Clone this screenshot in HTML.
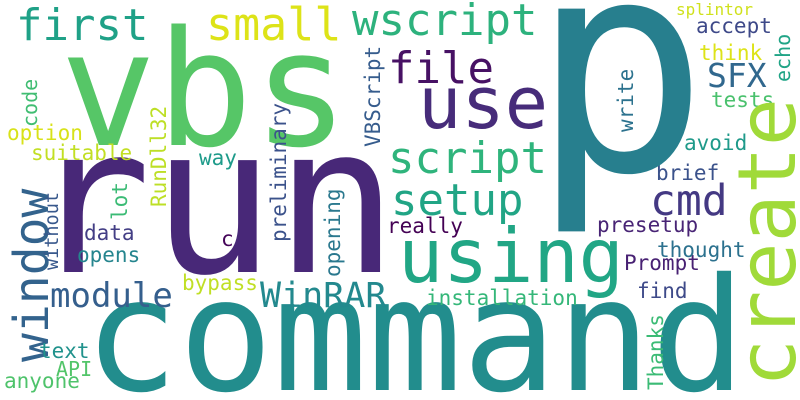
<!DOCTYPE html>
<html><head><meta charset="utf-8"><style>
html,body{margin:0;padding:0;background:#fff;overflow:hidden;width:800px;height:400px;}
svg{display:block;}
text{font-family:"DejaVu Sans Mono","Liberation Mono",monospace;}
</style></head><body>
<svg id="cloud" width="800" height="400" viewBox="0 0 800 400" xmlns="http://www.w3.org/2000/svg" overflow="hidden">
<rect width="800" height="400" fill="#ffffff"/>
</svg>
<script>
const words = ["vbs","first","small","wscript","file","use","script","script","setup","cmd","SFX","accept","splintor","think","tests","avoid","brief","echo","write","p","run","using","command","create","window","module","WinRAR","bypass","installation","Prompt","thought","presetup","really","find","Thanks","data","opens","c","text","API","anyone","without","lot","code","option","suitable","way","RunDll32","preliminary","VBScript","opening"];
const sizes = [160,44,45,44,44,72,44,44,44,43,33,21,16,21,21,21,21,20,21,295,205,75,157,80,48,34,35,21,21,21,21,21,21,21,21,21,21,21,21,20,21,18.5,21,20,21,21,21,21,21,21,21];
const colors = ["#56c667","#1fa187","#dde318","#2db27d","#471164","#472c7a","#2db27d","#2fb47c","#21a585","#443983","#31688e","#3e4989","#d0e11c","#dde318","#4ac16d","#1f9a8a","#3b528b","#20a486","#2c728e","#277f8e","#482878","#21a685","#228d8d","#a0da39","#33638d","#355f8d","#23898e","#c0df25","#35b779","#482173","#2c718e","#482475","#440154","#3e4a89","#3bbb75","#433e85","#25858e","#450559","#20928c","#52c569","#4ec36b","#38588c","#3bbb75","#40bd72","#d8e219","#c2df23","#1e9b8a","#bddf26","#3b528b","#365c8d","#2a788e"];
const xs = [60,16,206,352,388,418,388,388,391,650,707,696,676,699,711,684,656,790,633,531,28,398,84,795,48,50,260,182,426,624,657,597,387,637,663,84,77,221,39,56,4,58,127,37,7,31,199,166,286,380,340];
const ys = [145,40,40,35,83,128,35,173,215,215,87,33,15,60,107,150,180,82,132,170,272,282,390,387,362,307,307,290,305,270,257,232,233,298,390,240,262,246,358,376,388,270,220,127,140,160,165,207,242,147,277];
const rots = [0,0,0,0,0,0,0,0,0,0,0,0,0,0,0,0,0,-90,-90,0,0,0,0,-90,-90,0,0,0,0,0,0,0,0,0,-90,0,0,0,0,0,0,-90,-90,-90,0,0,0,-90,-90,-90,-90];
const skip = [6];
const svg = document.getElementById('cloud');
const NS = "http://www.w3.org/2000/svg";
for (let i = 0; i < words.length; i++) {
  if (skip.includes(i)) continue;
  const t = document.createElementNS(NS, 'text');
  
  
  t.setAttribute('font-size', sizes[i]);
  t.setAttribute('fill', colors[i]);
  t.setAttribute('x', 0);
  t.setAttribute('y', 0);
  t.setAttribute('transform', 'translate(' + xs[i] + ',' + ys[i] + ') rotate(' + rots[i] + ')');
  t.textContent = words[i];
  svg.appendChild(t);
}
</script>
</body></html>
